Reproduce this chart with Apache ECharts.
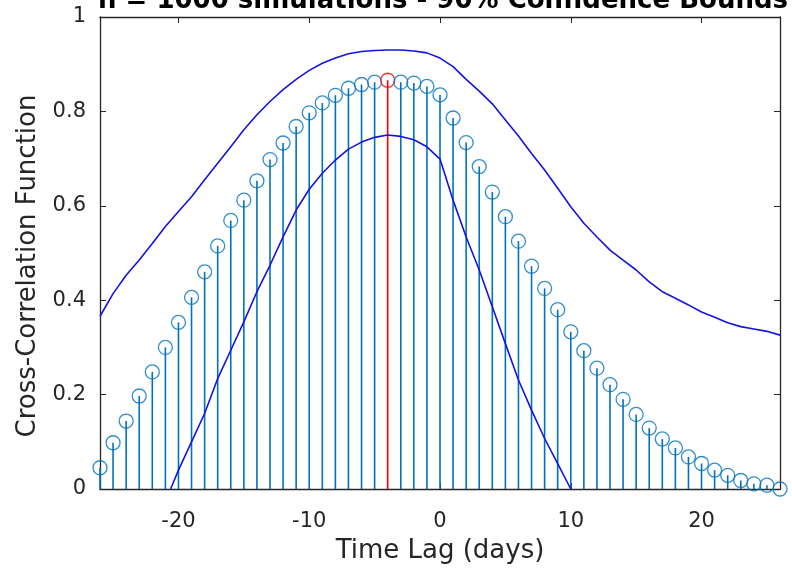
<!DOCTYPE html>
<html>
<head>
<meta charset="utf-8">
<script src="https://cdn.jsdelivr.net/npm/echarts@6/dist/echarts.min.js"></script>
<style>html,body{margin:0;padding:0;background:#fff}#c{width:792px;height:573px}</style>
</head>
<body>
<div id="c"></div>
<script>
const lags = [-26,-25,-24,-23,-22,-21,-20,-19,-18,-17,-16,-15,-14,-13,-12,-11,-10,-9,-8,-7,-6,-5,-4,-3,-2,-1,0,1,2,3,4,5,6,7,8,9,10,11,12,13,14,15,16,17,18,19,20,21,22,23,24,25,26];
const ccf = [0.045,0.098,0.144,0.197,0.248,0.300,0.353,0.406,0.460,0.515,0.569,0.612,0.653,0.698,0.733,0.768,0.797,0.818,0.834,0.849,0.857,0.862,0.866,0.862,0.860,0.853,0.835,0.786,0.734,0.683,0.629,0.577,0.525,0.472,0.425,0.380,0.333,0.293,0.256,0.221,0.190,0.158,0.129,0.106,0.087,0.068,0.054,0.040,0.029,0.018,0.011,0.008,0.000];
const upperBound = [0.366,0.414,0.453,0.485,0.520,0.556,0.588,0.619,0.655,0.690,0.725,0.761,0.793,0.821,0.846,0.868,0.887,0.902,0.913,0.922,0.927,0.929,0.930,0.930,0.928,0.924,0.913,0.895,0.868,0.843,0.816,0.782,0.748,0.711,0.676,0.637,0.598,0.563,0.534,0.506,0.485,0.464,0.439,0.418,0.404,0.390,0.375,0.364,0.352,0.344,0.339,0.334,0.326];
const lowerLags = [-20.6,-20,-19,-18,-17,-16,-15,-14,-13,-12,-11,-10,-9,-8,-7,-6,-5,-4,-3,-2,-1,0,1,2,3,4,5,6,7,8,9,10];
const lowerBound = [0,0.040,0.100,0.160,0.234,0.294,0.354,0.418,0.474,0.534,0.591,0.635,0.669,0.697,0.720,0.735,0.745,0.750,0.747,0.740,0.725,0.699,0.612,0.534,0.464,0.386,0.308,0.231,0.167,0.107,0.054,0];
const xTicks = [-20,-10,0,10,20];
const titleText = 'n = 1000 simulations - 90% Confidence Bounds';
const xLabel = 'Time Lag (days)';
const yLabel = 'Cross-Correlation Function';

const STEM = '#0072BD', PEAK = '#FF0000', BOUND = '#1414E0', AX = '#262626';
const FONT = 'DejaVu Sans';
let peakIdx = 0;
ccf.forEach((v,i)=>{ if (v > ccf[peakIdx]) peakIdx = i; });

const stemData = lags.map((l,i)=>[l, ccf[i]]);
const markerData = lags.map((l,i)=>({
  value:[l, ccf[i]],
  itemStyle: i===peakIdx ? {borderColor: PEAK} : undefined
}));

const chart = echarts.init(document.getElementById('c'), null, {renderer:'canvas'});
const xCommon = {type:'value', min:-26, max:26, splitLine:{show:false},
  axisLine:{show:true, onZero:false, lineStyle:{color:AX, width:1.3}},
  axisTick:{show:true, inside:true, length:6, customValues:xTicks, lineStyle:{color:AX}}};
const yCommon = {type:'value', min:0, max:1, interval:0.2, splitLine:{show:false},
  axisLine:{show:true, onZero:false, lineStyle:{color:AX, width:1.3}},
  axisTick:{show:true, inside:true, length:6, lineStyle:{color:AX}}};

chart.setOption({
  animation:false,
  backgroundColor:'#fff',
  grid:{left:100, right:12, top:17, bottom:84},
  xAxis:[
    Object.assign({}, xCommon, {position:'bottom',
      axisLabel:{show:true, customValues:xTicks, margin:22, fontSize:21, fontFamily:FONT, color:AX},
      name:xLabel, nameLocation:'middle', nameGap:49, nameTextStyle:{fontSize:26, fontFamily:FONT, color:AX}}),
    Object.assign({}, xCommon, {position:'top', axisLabel:{show:false}})
  ],
  yAxis:[
    Object.assign({}, yCommon, {position:'left',
      axisLabel:{show:true, margin:14, fontSize:21, fontFamily:FONT, color:AX}}),
    Object.assign({}, yCommon, {position:'right', axisLabel:{show:false}})
  ],
  graphic:[
    {type:'text', x:443, y:14.5, style:{text:titleText, font:'bold 26px "DejaVu Sans"', fill:'#000', textAlign:'center', textVerticalAlign:'bottom'}},
    {type:'text', x:28, y:266, rotation:Math.PI/2, style:{text:yLabel, font:'26px "DejaVu Sans"', fill:AX, textAlign:'center', textVerticalAlign:'middle'}}
  ],
  series:[
    {type:'custom', xAxisIndex:0, yAxisIndex:0, data:stemData, z:2,
      encode:{x:0, y:1},
      renderItem:function(params, api){
        const x = api.value(0), y = api.value(1);
        const p0 = api.coord([x, 0]), p1 = api.coord([x, y]);
        return {type:'line', shape:{x1:p0[0], y1:p0[1], x2:p1[0], y2:p1[1]},
          style:{stroke: params.dataIndex===peakIdx ? PEAK : STEM, lineWidth:1.6}};
      }},
    {type:'scatter', xAxisIndex:0, yAxisIndex:0, data:markerData, z:3,
      symbol:'circle', symbolSize:14,
      itemStyle:{color:'rgba(0,0,0,0)', borderColor:STEM, borderWidth:1.3}},
    {type:'line', xAxisIndex:0, yAxisIndex:0, data:lags.map((l,i)=>[l, upperBound[i]]), z:4,
      showSymbol:false, clip:true, lineStyle:{color:BOUND, width:1.6}},
    {type:'line', xAxisIndex:0, yAxisIndex:0, data:lowerLags.map((l,i)=>[l, lowerBound[i]]), z:4,
      showSymbol:false, clip:true, lineStyle:{color:BOUND, width:1.6}}
  ]
});
</script>
</body>
</html>
